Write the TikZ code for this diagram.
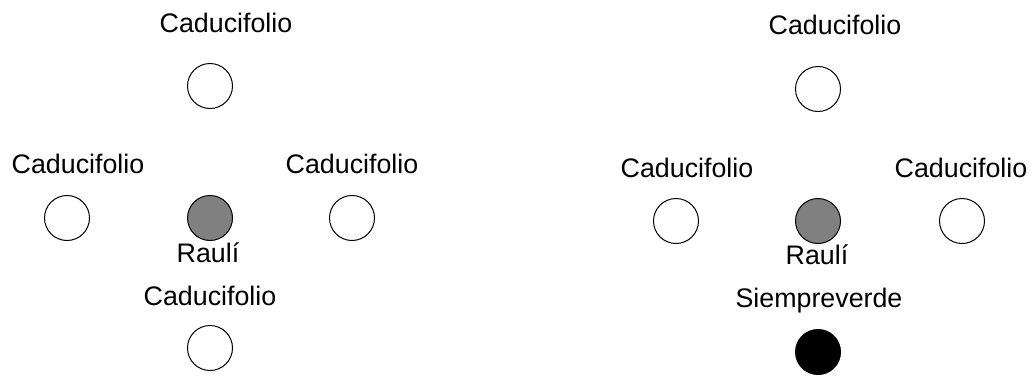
\documentclass[tikz,border=0pt]{standalone}
\usepackage{fontspec}
\setmainfont{Liberation Sans}
\begin{document}
\begin{tikzpicture}[x=1pt,y=-1pt,
  tree/.style={circle,draw=black,line width=1pt,minimum size=45pt,inner sep=0pt},
  cad/.style={tree,fill=white},
  raul/.style={tree,fill=black!50},
  siem/.style={tree,fill=black},
  lbl/.style={anchor=base,inner sep=0pt,font=\fontsize{26.8}{30}\selectfont}]
\useasboundingbox (0,0) rectangle (1036,375);
% left group
\node[cad] (lt) at (210,86) {};
\node[cad] (ll) at (67,218) {};
\node[raul] (lc) at (210,218) {};
\node[cad] (lr) at (352,218) {};
\node[cad] (lb) at (210,348) {};
\node[lbl] (ltl) at (226,32) {Caducifolio};
\node[lbl] (lll) at (78,173) {Caducifolio};
\node[lbl] (lrl) at (352,173) {Caducifolio};
\node[lbl] (lcl) at (208,262) {Raulí};
\node[lbl] (lbl) at (210,305) {Caducifolio};
% right group
\node[cad] (rt) at (818,89) {};
\node[cad] (rl) at (676,221) {};
\node[raul] (rc) at (818,221) {};
\node[cad] (rr) at (962,221) {};
\node[siem] (rb) at (818,352) {};
\node[lbl] (rtl) at (835,34) {Caducifolio};
\node[lbl] (rll) at (687,177) {Caducifolio};
\node[lbl] (rrl) at (961,177) {Caducifolio};
\node[lbl] (rcl) at (817,264) {Raulí};
\node[lbl] (rbl) at (819,307) {Siempreverde};
\end{tikzpicture}
\end{document}
